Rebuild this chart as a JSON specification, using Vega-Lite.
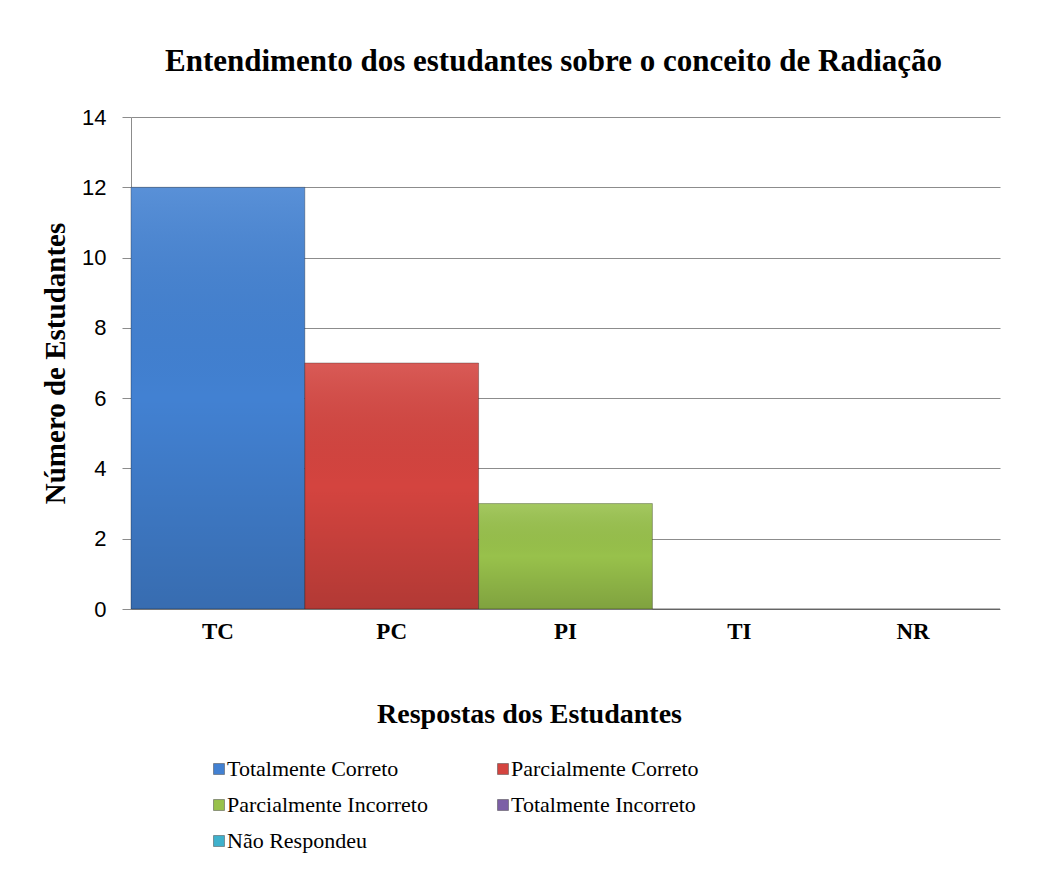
{
  "$schema": "https://vega.github.io/schema/vega-lite/v6.json",
  "width": 869,
  "height": 492,
  "autosize": {"type": "none"},
  "padding": {"left": 131, "top": 117, "right": 43, "bottom": 268},
  "background": "white",
  "title": {
    "text": "Entendimento dos estudantes sobre o conceito de Radiação",
    "font": "Liberation Serif",
    "fontSize": 31,
    "fontWeight": "bold",
    "color": "black",
    "anchor": "middle",
    "dx": -12,
    "offset": 28
  },
  "data": {
    "values": [
      {"codigo": "TC", "resposta": "Totalmente Correto", "estudantes": 12},
      {"codigo": "PC", "resposta": "Parcialmente Correto", "estudantes": 7},
      {"codigo": "PI", "resposta": "Parcialmente Incorreto", "estudantes": 3},
      {"codigo": "TI", "resposta": "Totalmente Incorreto", "estudantes": 0},
      {"codigo": "NR", "resposta": "Não Respondeu", "estudantes": 0}
    ]
  },
  "encoding": {
    "x": {
      "field": "codigo",
      "type": "nominal",
      "sort": ["TC", "PC", "PI", "TI", "NR"],
      "scale": {"paddingInner": 0, "paddingOuter": 0},
      "axis": {
        "title": "Respostas dos Estudantes",
        "titleFont": "Liberation Serif",
        "titleFontSize": 28,
        "titleFontWeight": "bold",
        "titleColor": "black",
        "titlePadding": 57,
        "titleX": 398,
        "labelFont": "Liberation Serif",
        "labelFontSize": 23,
        "labelFontWeight": "bold",
        "labelColor": "black",
        "labelAngle": 0,
        "labelPadding": 11,
        "ticks": false,
        "domain": false
      }
    },
    "y": {
      "field": "estudantes",
      "type": "quantitative",
      "scale": {"domain": [0, 14], "nice": false},
      "axis": {
        "values": [0, 2, 4, 6, 8, 10, 12, 14],
        "title": "Número de Estudantes",
        "titleFont": "Liberation Serif",
        "titleFontSize": 29,
        "titleFontWeight": "bold",
        "titleColor": "black",
        "titlePadding": 11,
        "labelFont": "Liberation Sans",
        "labelFontSize": 22,
        "labelColor": "black",
        "labelPadding": 16,
        "grid": true,
        "gridColor": "#8c8c8c",
        "gridOpacity": 1,
        "domainColor": "#8c8c8c",
        "tickColor": "#8c8c8c",
        "tickSize": 9
      }
    }
  },
  "layer": [
    {
      "mark": {"type": "bar", "stroke": "black", "strokeOpacity": 0.3, "strokeWidth": 1},
      "encoding": {
        "color": {
          "field": "resposta",
          "type": "nominal",
          "sort": ["Totalmente Correto", "Parcialmente Correto", "Parcialmente Incorreto", "Totalmente Incorreto", "Não Respondeu"],
          "scale": {
            "domain": ["Totalmente Correto", "Parcialmente Correto", "Parcialmente Incorreto", "Totalmente Incorreto", "Não Respondeu"],
            "range": ["#4281d2", "#d4443f", "#98c14b", "#7c5fa6", "#3fb1cc"]
          },
          "legend": {
            "title": null,
            "orient": "none",
            "direction": "horizontal",
            "legendX": 77,
            "legendY": 641,
            "columns": 2,
            "columnPadding": 64,
            "rowPadding": 14,
            "symbolType": "square",
            "symbolSize": 120,
            "symbolStrokeColor": "#444444",
            "symbolStrokeWidth": 0.5,
            "labelFont": "Liberation Serif",
            "labelFontSize": 22,
            "labelColor": "black",
            "labelOffset": -3,
            "labelLimit": 400
          }
        }
      }
    },
    {
      "mark": {
        "type": "bar",
        "fill": {
          "gradient": "linear",
          "x1": 0, "y1": 0, "x2": 0, "y2": 1,
          "stops": [
            {"offset": 0, "color": "rgba(255,255,255,0.12)"},
            {"offset": 0.5, "color": "rgba(0,0,0,0.0)"},
            {"offset": 1, "color": "rgba(0,0,0,0.16)"}
          ]
        },
        "strokeWidth": 0
      }
    }
  ],
  "config": {
    "view": {"stroke": null}
  }
}
